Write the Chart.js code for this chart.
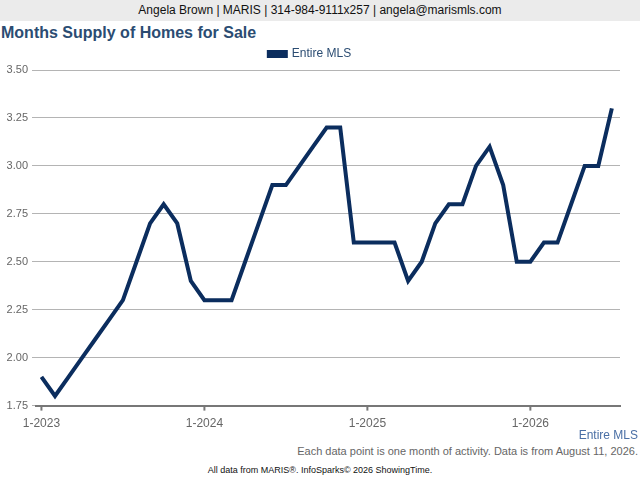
<!DOCTYPE html>
<html>
<head>
<meta charset="utf-8">
<script src="https://cdn.jsdelivr.net/npm/chart.js@4"></script>
<style>
  body { margin: 0; width: 640px; height: 480px; background: #fff; font-family: "Liberation Sans", Arial, sans-serif; position: relative; overflow: hidden; }
  #header { position: absolute; top: 0; left: 0; width: 640px; height: 21px; background: #ebebeb; font-size: 12px; line-height: 21px; text-align: center; color: #111; }
  #title { position: absolute; top: 24px; left: 1px; font-size: 16px; font-weight: bold; color: #2b4c72; }
  #wrap { position: absolute; top: 41px; left: 0; width: 640px; height: 393px; }
  #seriesName { position: absolute; top: 428px; right: 2px; font-size: 12px; color: #4a6fa5; }
  #note { position: absolute; top: 445px; right: 2px; font-size: 11px; color: #666; }
  #credit { position: absolute; top: 465px; left: 0; width: 640px; text-align: center; font-size: 9px; color: #111; }
</style>
</head>
<body>
<div id="header">Angela Brown | MARIS | 314-984-9111x257 | angela@marismls.com</div>
<div id="title">Months Supply of Homes for Sale</div>
<div id="wrap"><canvas id="myChart"></canvas></div>
<div id="seriesName">Entire MLS</div>
<div id="note">Each data point is one month of activity. Data is from August 11, 2026.</div>
<div id="credit">All data from MARIS®. InfoSparks© 2026 ShowingTime.</div>
<script>
// months from 1-2023 to 7-2026
const months = [
  '1-2023','2-2023','3-2023','4-2023','5-2023','6-2023','7-2023','8-2023','9-2023','10-2023','11-2023','12-2023',
  '1-2024','2-2024','3-2024','4-2024','5-2024','6-2024','7-2024','8-2024','9-2024','10-2024','11-2024','12-2024',
  '1-2025','2-2025','3-2025','4-2025','5-2025','6-2025','7-2025','8-2025','9-2025','10-2025','11-2025','12-2025',
  '1-2026','2-2026','3-2026','4-2026','5-2026','6-2026','7-2026'
];
const entireMLS = [
  1.9, 1.8, 1.9, 2.0, 2.1, 2.2, 2.3, 2.5, 2.7, 2.8, 2.7, 2.4,
  2.3, 2.3, 2.3, 2.5, 2.7, 2.9, 2.9, 3.0, 3.1, 3.2, 3.2, 2.6,
  2.6, 2.6, 2.6, 2.4, 2.5, 2.7, 2.8, 2.8, 3.0, 3.1, 2.9, 2.5,
  2.5, 2.6, 2.6, 2.8, 3.0, 3.0, 3.3
];
const xTickIndex = [0, 12, 24, 36];
const yTicks = [1.75, 2.00, 2.25, 2.50, 2.75, 3.00, 3.25, 3.50];

const points = entireMLS.map((v, i) => ({ x: i, y: v }));

const config = {
  type: 'line',
  data: {
    datasets: [{
      label: 'Entire MLS',
      data: points,
      borderColor: '#0b2d5e',
      backgroundColor: '#0b2d5e',
      borderWidth: 4,
      pointRadius: 0,
      tension: 0
    }]
  },
  options: {
    responsive: true,
    maintainAspectRatio: false,
    animation: false,
    layout: { padding: { right: 20, left: 0, top: 3, bottom: 0 } },
    plugins: {
      legend: {
        labels: {
          boxWidth: 17,
          boxHeight: 4,
          color: '#2b4c72',
          font: { size: 12, family: 'Liberation Sans' },
          padding: 4
        }
      },
      tooltip: { enabled: false }
    },
    scales: {
      x: {
        type: 'linear',
        min: -0.4,
        max: 42.6,
        afterBuildTicks: axis => { axis.ticks = xTickIndex.map(v => ({ value: v })); },
        ticks: {
          callback: v => months[v],
          color: '#666',
          font: { size: 12, family: 'Liberation Sans' },
          maxRotation: 0,
          padding: 3
        },
        grid: { display: false, drawTicks: true },
        border: { color: '#777', width: 2 }
      },
      y: {
        min: 1.75,
        max: 3.5,
        afterBuildTicks: axis => { axis.ticks = yTicks.map(v => ({ value: v })); },
        afterFit: axis => { axis.width = 36; },
        ticks: {
          callback: v => v.toFixed(2),
          color: '#666',
          font: { size: 11, family: 'Liberation Sans' },
          padding: 4
        },
        grid: { color: '#b4b4b4', tickLength: 4 },
        border: { display: false }
      }
    }
  },
  plugins: [{
    // small tick marks below the x axis at each year
    id: 'yearTicks',
    afterDraw(chart) {
      const ctx = chart.ctx;
      const xs = chart.scales.x;
      const bottom = chart.chartArea.bottom;
      ctx.save();
      ctx.strokeStyle = '#777';
      ctx.lineWidth = 2;
      xTickIndex.forEach(i => {
        const px = xs.getPixelForValue(i);
        ctx.beginPath();
        ctx.moveTo(px, bottom);
        ctx.lineTo(px, bottom + 5);
        ctx.stroke();
      });
      ctx.restore();
    }
  }]
};

const myChart = new Chart(document.getElementById('myChart'), config);
</script>
</body>
</html>
